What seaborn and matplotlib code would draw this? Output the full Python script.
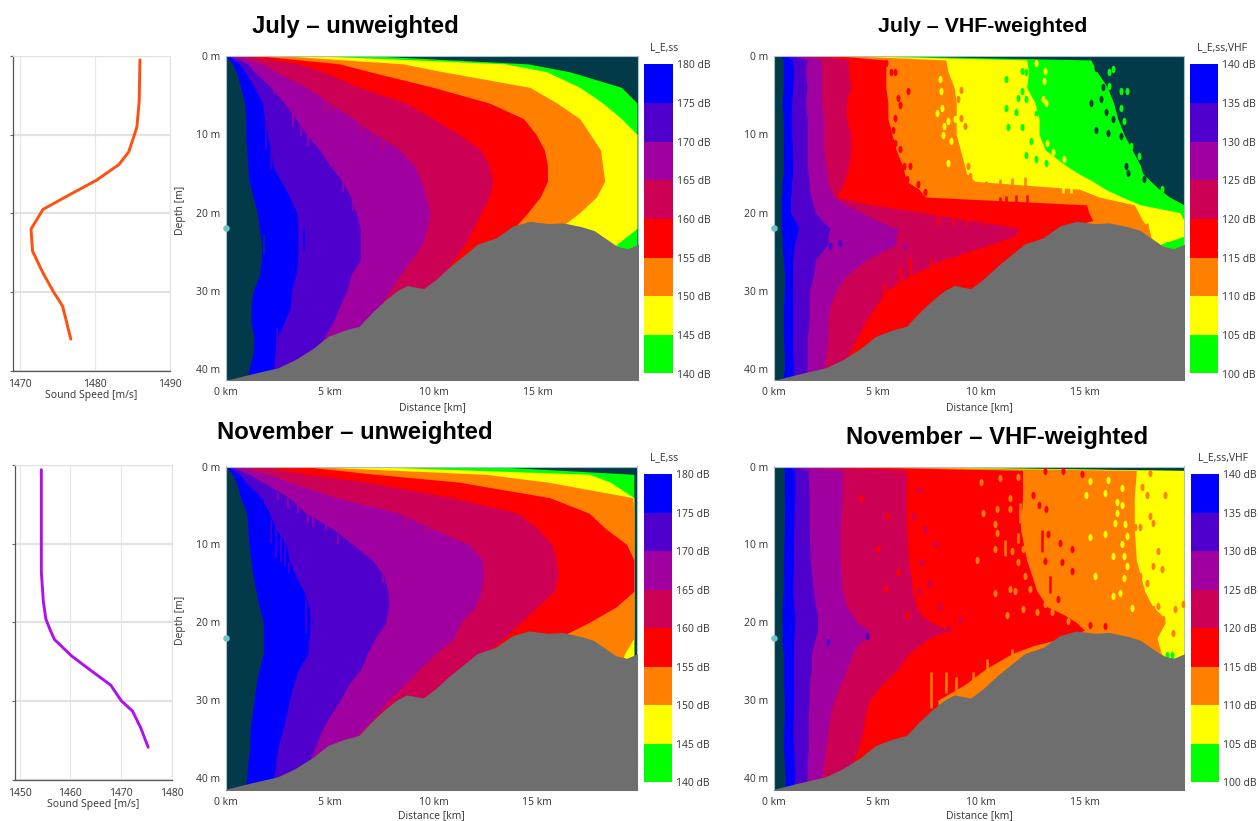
import numpy as np
import seaborn as sns
import matplotlib
matplotlib.use("Agg")
import matplotlib.pyplot as plt
from matplotlib.colors import ListedColormap
from matplotlib.path import Path
from matplotlib.transforms import Affine2D

sns.set_style("white")
plt.rcParams['font.family'] = ['Open Sans', 'DejaVu Sans']

W, H = 1258, 821

# colours, top of the colour bar first
band_names = ["blue", "indigo", "purple", "crimson", "red", "orange", "yellow", "green"]
band_colours = ["#0000ff", "#5000cc", "#a000a0", "#cc0055", "#ff0000", "#ff8000", "#ffff00", "#00ff00"]
palette = dict(zip(band_names, band_colours))
TEAL = "#033a4a"
GREY = "#6e6e6e"
palette["teal"] = TEAL

levels_unw = [180, 175, 170, 165, 160, 155, 150, 145, 140]
levels_vhf = [140, 135, 130, 125, 120, 115, 110, 105, 100]

# sound speed profiles
july_depth = [0.5, 5.7, 9, 10.5, 12.2, 13.8, 15.8, 17.5, 19.5, 22, 24.8, 27.6, 30, 31.8, 36]
july_speed = [1486.0, 1485.9, 1485.6, 1485.1, 1484.5, 1483.2, 1480.2, 1476.9, 1473.1, 1471.5, 1471.7, 1473.1, 1474.5, 1475.7, 1476.8]
nov_depth = [0.6, 6.4, 13.6, 17.4, 19.6, 20.9, 22.2, 24.3, 26, 28, 30, 31.3, 33.4, 35.9]
nov_speed = [1454.3, 1454.3, 1454.3, 1454.7, 1455.2, 1456, 1456.9, 1460.3, 1463.8, 1468, 1470.1, 1472.3, 1473.9, 1475.4]

# seabed
bed_km = [0, 1.2, 2.5, 3.3, 4.2, 4.9, 5.7, 6.4, 7, 7.6, 8.2, 8.7, 9.5, 10.1, 10.8, 11.5, 12.1, 13, 13.8, 14.6, 15.5, 16.2, 17.1, 17.7, 18.3, 18.8, 19.3, 19.85]
bed_m = [41.4, 40.6, 39.8, 38.8, 37.3, 35.8, 35, 34.5, 32.8, 31.3, 30, 29.3, 29.7, 28.5, 26.8, 25.3, 24, 23.2, 21.7, 21.1, 21.4, 21.3, 21.8, 22.3, 23.4, 24.3, 24.6, 24]

# outer distance [km] of each band per depth row
unw_depth = [0, 1, 2, 4, 6, 8, 10, 12, 14, 16, 18, 20, 22, 24, 26, 28, 30, 32, 34, 36, 38, 40, 41.4]

a_inner = [0, .3, .5, .7, .9, .95, .95, 1, 1.05, 1.1, 1.3, 1.5, 1.6, 1.7, 1.7, 1.6, 1.3, 1.2, 1.2, 1.35, 1.3, 1.1, 1.0]
a_blue = [.1, .65, .9, 1.35, 1.75, 1.85, 2, 2.15, 2.25, 2.65, 3.05, 3.4, 3.45, 3.45, 3.45, 3.35, 3.15, 3.1, 2.8, 2.45, 2.35, 2.3, 2.3]
a_indigo = [.2, 1.05, 1.35, 2.15, 2.8, 3.35, 3.85, 4.5, 5, 5.6, 6, 6.25, 6.45, 6.45, 6.45, 6, 5.8, 5.45, 5.15, 4.7, 4.2, 3.75, 3.5]
a_purple = [.55, 1.75, 2.4, 3.85, 5, 6.1, 7.2, 8.35, 9.05, 9.4, 9.6, 9.8, 9.65, 9.45, 8.9, 8.35, 7.85, 7.4, 6.75, 6.1, 5.45, 4.85, 4.5]
a_crimson = [.95, 3.5, 4.65, 6.4, 8.65, 9.95, 11.2, 12.25, 12.65, 12.8, 12.65, 12.25, 11.9, 11.5, 10.95, 10.4, 9.75, 9.1, 8.5, 8, 7.5, 7, 6.5]
a_red = [1.7, 5.45, 6.9, 9.95, 12.65, 14.3, 14.9, 15.3, 15.45, 15.45, 15.1, 14.5, 13.85, 13.2, 12.5, 12, 11.5, 11, 10.5, 10, 9.5, 9, 8.5]
a_orange = [2.9, 8.5, 10.4, 14.6, 15.9, 17, 17.5, 18, 18.1, 18.2, 17.8, 17, 16, 15, 15, 15, 15, 15, 15, 15, 15, 15, 15]
a_yellow = [4.6, 13.4, 15.4, 17, 18.1, 19, 19.75, 19.75, 19.75, 19.75, 19.75, 19.75, 19.75, 18.8, 18, 18, 18, 18, 18, 18, 18, 18, 18]
a_green = [7.2, 14.5, 16.5, 19, 19.75, 19.75, 19.75, 19.75, 19.75, 19.75, 19.75, 19.75, 19.75, 19.75, 19.75, 19.75, 19.75, 19.75, 19.75, 19.75, 19.75, 19.75, 19.75]

c_inner = [0, .3, .5, .7, 1, 1.05, 1.1, 1.2, 1.3, 1.45, 1.6, 1.8, 1.8, 1.8, 1.6, 1.45, 1.35, 1.25, 1.15, 1.15, 1.05, 1, .9]
c_blue = [.1, .65, .95, 1.7, 2.1, 2.4, 2.9, 3.05, 3.35, 3.75, 4, 4.15, 4, 3.95, 3.5, 3.25, 3.05, 2.9, 2.7, 2.5, 2.4, 2.3, 2.3]
c_indigo = [.2, 1.1, 1.75, 3.05, 3.85, 5.15, 6.1, 7.05, 7.6, 7.8, 7.85, 7.7, 7.2, 6.8, 6.5, 5.9, 5.5, 5, 4.6, 4.3, 4, 3.7, 3.5]
c_purple = [.6, 2.1, 3.05, 5.3, 8.35, 9.95, 11.7, 12.35, 12.4, 12.3, 12, 11.3, 11, 10.1, 9.3, 8.6, 7.8, 7.2, 6.5, 5.8, 5.2, 4.7, 4.3]
c_crimson = [1.8, 3.85, 6.75, 10.9, 14.1, 15, 15.7, 15.9, 16, 15.8, 15, 14.2, 13.4, 12.5, 11.8, 11.2, 10.5, 10, 9.5, 9, 8.5, 8, 7.5]
c_red = [3.7, 7.2, 11.2, 15.6, 17.5, 18.3, 19.3, 19.65, 19.65, 19.65, 18.8, 17.5, 16, 15, 15, 15, 15, 15, 15, 15, 15, 15, 15]
c_orange = [4, 12.5, 15.5, 19.6, 19.65, 19.65, 19.65, 19.65, 19.65, 19.65, 19.65, 19.65, 19.65, 19.2, 19, 19, 19, 19, 19, 19, 19, 19, 19]
c_yellow = [6.8, 17.5, 18.5, 19.65, 19.65, 19.65, 19.65, 19.65, 19.65, 19.65, 19.65, 19.65, 19.65, 19.65, 19.65, 19.65, 19.65, 19.65, 19.65, 19.65, 19.65, 19.65, 19.65]
c_green = [12.8, 19.65, 19.65, 19.65, 19.65, 19.65, 19.65, 19.65, 19.65, 19.65, 19.65, 19.65, 19.65, 19.65, 19.65, 19.65, 19.65, 19.65, 19.65, 19.65, 19.65, 19.65, 19.65]

b_depth = [0, .5, 2, 4, 6, 8, 10, 12, 14, 15, 16, 17, 18, 19, 20, 21, 22, 23, 24, 26, 28, 30, 32, 34, 36, 38, 40, 41.4]
b_inner = [.3, .45, .45, .45, .4, .45, .45, .45, .45, .45, .4, .4, .35, .35, .35, .35, .35, .4, .4, .45, .5, .5, .45, .45, .45, .5, .5, .4]
b_blue = [.6, .9, .95, .9, .85, .85, .85, .9, .9, .9, .85, .85, .8, .8, .8, 1, 1.2, 1.1, 1, .9, .9, .9, .9, .9, .9, .9, .95, .9]
b_indigo = [1, 1.6, 1.5, 1.6, 1.5, 1.6, 1.6, 1.6, 1.6, 1.65, 1.7, 1.7, 1.8, 1.9, 2, 2.3, 2.7, 2.6, 2.6, 2, 1.9, 1.7, 1.7, 1.7, 1.6, 1.6, 1.6, 1.5]
b_purple = [1.5, 2.3, 2.3, 2.3, 2.3, 2.4, 2.4, 2.4, 2.5, 2.55, 2.6, 2.7, 2.9, 3.5, 4.2, 5, 5.8, 5.9, 5.9, 4.5, 3.5, 3, 2.7, 2.6, 2.6, 2.5, 2.4, 2.4]
b_crimson = [2.2, 3.6, 3.6, 3.7, 3.5, 3.5, 3.7, 3.7, 3.6, 3.5, 3.4, 3.2, 3, 4.7, 7.2, 9.6, 11.85, 11.6, 10.5, 8.2, 6.6, 5.4, 4.9, 4.4, 4, 3.6, 3.3, 3]
b_red = [3.1, 5.4, 5.4, 5.4, 5.5, 5.5, 5.7, 5.9, 6.2, 6.3, 6.4, 7, 7.3, 15.1, 15.2, 15.4, 14, 13.5, 13, 13, 13, 13, 13, 13, 13, 13, 13, 13]
b_orange = [3.8, 8.3, 8.4, 8.7, 8.8, 8.8, 8.8, 9, 9.2, 9.3, 9.7, 14.75, 15.7, 17.4, 17.6, 17.8, 18.1, 18.2, 18.2, 18, 18, 18, 18, 18, 18, 18, 18, 18]
b_yellow = [4.5, 12.2, 12.3, 12.2, 12.6, 12.8, 12.8, 13.1, 14.1, 14.7, 15.4, 16, 16.8, 17.7, 19.6, 19.8, 19.8, 19.8, 18.7, 18.7, 18.7, 18.7, 18.7, 18.7, 18.7, 18.7, 18.7, 18.7]
b_green = [5.8, 15.3, 15.6, 16.1, 16.4, 16.6, 16.9, 17.3, 17.7, 17.8, 18.2, 18.6, 19.1, 19.8, 19.8, 19.8, 19.8, 19.8, 19.8, 19.8, 19.8, 19.8, 19.8, 19.8, 19.8, 19.8, 19.8, 19.8]

d_depth = [0, .5, 4, 8, 12, 16, 18, 19, 20, 21, 22, 23, 24, 26, 28, 30, 32, 34, 36, 38, 40, 41.4]
d_inner = [.45, .5, .5, .5, .45, .45, .4, .4, .4, .4, .4, .4, .45, .45, .45, .5, .5, .45, .45, .5, .55, .5]
d_blue = [.7, 1, 1, .95, .95, .9, .95, 1, 1, 1, .95, .95, .95, .95, .95, .95, .95, .9, .95, 1, 1, .9]
d_indigo = [1, 1.65, 1.7, 1.7, 1.75, 1.9, 2, 2.1, 2.1, 2.1, 2, 1.9, 1.8, 1.8, 1.7, 1.7, 1.65, 1.65, 1.65, 1.6, 1.6, 1.5]
d_purple = [1.5, 3.3, 3.3, 3.2, 3.2, 3.3, 3.5, 3.8, 4, 4.6, 4.4, 4, 3.8, 3.5, 3.2, 2.9, 2.7, 2.6, 2.5, 2.4, 2.3, 2.3]
d_crimson = [2, 6.4, 6.4, 6.4, 6.5, 6.7, 6.9, 7.1, 7.6, 8.4, 7.5, 7, 6.5, 6, 5.2, 4.6, 4.4, 4.3, 4.1, 3.8, 3.5, 3.2]
d_red = [3.2, 12, 12, 11.9, 12.2, 12.7, 13.2, 14, 14.6, 15, 14, 12.5, 11.5, 10.2, 9.2, 7.9, 8, 8, 8, 8, 8, 8]
d_orange = [4, 17.5, 17.4, 17.4, 17.5, 17.9, 18.3, 18.7, 18.9, 18.7, 18.5, 18.6, 18.7, 19.8, 19.8, 19.8, 19.8, 19.8, 19.8, 19.8, 19.8, 19.8]
d_yellow = [4.9, 19.8, 19.8, 19.8, 19.8, 19.8, 19.8, 19.8, 19.8, 19.8, 19.8, 19.8, 19.8, 19.8, 19.8, 19.8, 19.8, 19.8, 19.8, 19.8, 19.8, 19.8]
d_green = [7.8, 19.8, 19.8, 19.8, 19.8, 19.8, 19.8, 19.8, 19.8, 19.8, 19.8, 19.8, 19.8, 19.8, 19.8, 19.8, 19.8, 19.8, 19.8, 19.8, 19.8, 19.8]

# speckles in the weighted panels: band, distance [km], depth [m]
b_spots = [
    ("yellow", [8, 8.05, 8.1, 7.87, 8.2, 8.16, 8.53, 8.4, 8.72, 8.4],
     [3, 4.5, 6.6, 7.3, 9, 10.1, 10.9, 13.6, 8.1, 8.3]),
    ("orange", [9.05, 9.2, 8.9, 9.05, 9.37, 9.45, 9.77],
     [7.9, 8.9, 5.5, 4.3, 14, 15.3, 17.2]),
    ("red", [6, 6.07, 5.83, 5.75, 5.83, 6.07, 6.3, 6.55, 6.4, 6.96, 7.28, 5.67, 5.83, 6.48, 5.43],
     [5.3, 6.2, 7.9, 9.4, 11.1, 11.9, 14, 14, 15.7, 16.4, 17.4, 2.1, 2.1, 4.5, .9]),
    ("green", [12, 12.18, 12, 12.18, 11.7, 11.3, 12, 12.4, 12.18, 12.66, 13.14, 11.2, 11.78, 11.18, 12.66,
               16.19, 16.35, 16.76, 17.03, 16.92, 17.24, 17.64, 18.76, 16.76, 16.19, 17.32, 17.96, 18.96, 19.3],
     [1.9, 2.1, 4.5, 5.5, 7.2, 9.1, 9.1, 10.9, 12.6, 13.2, 13.6, 3, 5.3, 6.6, 7.4,
      2.1, 1.7, 4.5, 4.5, 8.3, 11.5, 12.8, 17, 6.6, 3.8, 14, 16, 24.1, 24.2]),
    ("yellow", [12.66, 13.1, 13.06, 13.14, 12.66, 13.2, 14, 13.46, 12.34, 12.98],
     [.85, 1.9, 3.2, 6, 8.1, 11.1, 13.2, 12.3, 7.7, 5.5]),
    ("teal", [15.55, 15.87, 15.79, 15.31, 16.03, 16.35, 15.55, 16.11, 16.76, 17.08, 17.88, 17, 15.87],
     [1.5, 1.9, 5.5, 6, 7.2, 8.1, 9.4, 9.8, 10.2, 14.9, 15.7, 14, 4]),
    ("indigo", [1.74, 2.7, 3.18], [24.3, 24.3, 23.9]),
    ("purple", [4.87, 5.43, 5.91, 6.31, 5.67, 5.11, 4.31, 3.9], [21.8, 21.8, 22.2, 24.3, 24.1, 24.3, 21.8, 22.2]),
]
# vertical streaks: band, distance [km], top [m], bottom [m]
b_streaks = [
    ("orange", [11.5, 12.1, 10.9, 10.25, 17.6, 18], [15.6, 15.4, 15.7, 16, 20.4, 21.3], [16.8, 16.8, 16.8, 16.8, 22, 22.5]),
    ("yellow", [13.95, 14.35], [16.5, 16.5], [17.5, 17.5]),
    ("red", [10.9, 11.2, 11.7, 12.2, 7.92, 8.64, 9.29, 10.09, 6.55, 7.6, 8.24, 8.72, 9.77, 6.07, 5.3],
     [18, 17.9, 17.8, 17.8, 20, 20, 20, 20, 25.8, 25.8, 25.8, 25.8, 25.8, 27, 29],
     [19.5, 19.5, 19.5, 19.5, 21.6, 21.6, 21.6, 21.6, 28.2, 28.2, 28.2, 28.2, 28.2, 29, 32]),
]

d_spots = [
    ("red", [12.52, 12.81, 13.14, 13.25, 13.81, 14.38, 13.73, 15.26, 15.99, 14.86, 13.09, 13.97, 13.89, 14.38, 13.09, 5, 5.5, 6, 4.2, 5.4, 6.4],
     [3.6, 5, 5.5, 8.7, 9.8, 10.6, 17, 20.3, 20.4, .9, .6, .6, 12.3, 13.4, 12.1, 10.6, 6.3, 13.5, 4.1, 15.7, 19.1]),
    ("orange", [11.4, 10.67, 10.75, 10.67, 11.48, 12.04, 12.44, 11.8, 12.12, 11.64, 12.04, 13.09, 13.41, 14.21, 13.49, 11.4, 11.96, 10.75, 10.91, 11.8, 12.36, 12.68, 11.24, 10.67, 11.4, 10, 10.1, 9.8,
                17.76, 18, 18.16, 17.68, 18.32, 18.56, 18.88, 18.32, 18.72, 17.68, 18.16, 17.43, 18, 18.56, 18.32, 19.29, 18, 18.8, 19.37, 19.77],
     [4, 7.4, 8.5, 10.6, 10.9, 10.6, 9.1, 12.3, 14, 16, 18.3, 17.7, 18.7, 19.8, 12.3, 5.5, 6.4, 5.5, 1.5, 1.3, 15.7, 18.7, 19.1, 16.2, 15.7, 2, 6, 12,
      2.6, 3.6, 6.4, 7.7, 7.2, 10.9, 3.6, 12.8, 13.2, 14, .85, 7.7, 14.9, 17.9, 18.3, 21.3, 18.3, 19.6, 18.3, 17.7]),
    ("yellow", [15.99, 16.79, 16.55, 16.79, 16.55, 15.26, 16.15, 15.05, 15.26, 15.99, 17.03, 16.79, 16.39, 16.9, 15.5, 16.9, 16.71, 16.39, 16.47, 16.95, 17.27, 17.03],
     [3.4, 2.8, 4.5, 5, 6, 1.9, 1.7, 3.6, 9, 8.7, 8.9, 10, 11.5, 11.5, 14, 14.3, 16.2, 16.6, 7.2, 7.4, 18.1, 12.8]),
    ("green", [18.96, 19.2], [24.2, 24.2]),
    ("indigo", [4.5, 2.6], [21.7, 22.5]),
    ("crimson", [7.1, 6.7, 8.4, 7, 7.3, 7.5, 8, 9, 7, 7.8], [12.3, 6.3, 20.8, 3, 8, 15, 18, 19.5, 16, 10]),
]
d_streaks = [
    ("orange", [7.6, 8.3, 8.8, 9.6, 10.3, 11.5, 11.15, 11.8, 11.88, 12.2], [26.4, 26.4, 27, 26.4, 24.7, 23.4, 9.4, 8.5, 4.7, 1.3],
     [31, 29, 29.2, 29.4, 27.2, 25, 11.5, 9.8, 7.2, 3.4]),
    ("red", [12.93, 13.33], [8.1, 14], [11, 16.2]),
]

# narrow teeth along the band edges of the unweighted panels
a_streaks = [
    ("indigo", [1.92, 2.16, 2.47], [7.7, 11.5, 34.7], [11.9, 14.5, 37.7]),
    ("purple", [3.2, 3.6, 2.3, 3.93, 5.6, 6.1, 9.7], [6.4, 8.1, 3.8, 9.4, 15.5, 17.9, 18.9], [9.1, 10.2, 4.9, 11.5, 17.4, 19.8, 21.5]),
    ("crimson", [4.8, 5.13, 6.5, 7.05, 7.5], [5.3, 5.5, 8.3, 9.6, 10.6], [7, 7.2, 10, 11, 11.9]),
    ("blue", [3.75], [21.9], [24.9]),
    ("teal", [1.82], [22.7], [25.3]),
]
c_streaks = [
    ("indigo", [2.17, 2.41, 2.65, 2.86, 3.05, 3.85, 4.09], [6.8, 7.7, 9.2, 9.2, 12.2, 17, 18.2], [9.8, 11.8, 12.2, 12.8, 13.7, 21.4, 21.6]),
    ("purple", [2.49, 2.97, 3.45, 3.93, 4.2, 4.8, 5.4, 7.55], [3.4, 4, 5.1, 6, 6.2, 7.3, 8.8, 13.9], [4.3, 5.3, 6, 7.3, 7.7, 8.3, 10, 15]),
    ("crimson", [8.67, 9.63], [6.6, 7.9], [7.5, 8.5]),
]

# tall blob used for the speckles
BLOB = Path.unit_circle().transformed(Affine2D().scale(0.6, 1.1))


def px_axes(left, top, right, bottom):
    return fig.add_axes([left / W, 1 - bottom / H, (right - left) / W, (bottom - top) / H])


def section(rect, ylim, depth, inner, edges, xlabel_y, ylabel_y=None, spots=(), streaks=(), streak_lw=1.8):
    ax = px_axes(*rect)
    ax.set_facecolor(TEAL)
    # outermost band first, every next band painted over it
    for name, edge in zip(band_names[::-1], edges[::-1]):
        ax.fill_betweenx(depth, 0, edge, color=palette[name], lw=0, zorder=1)
    ax.fill_betweenx(depth, 0, inner, color=TEAL, lw=0, zorder=2)
    for band, km, m in spots:
        sns.scatterplot(x=km, y=m, color=palette[band], s=28, marker=BLOB, linewidth=0, legend=False, ax=ax, zorder=3)
    for band, km, top, bot in streaks:
        ax.vlines(km, top, bot, color=palette[band], lw=streak_lw, zorder=3)
    ax.fill_between(bed_km, bed_m, 45, color=GREY, lw=0, zorder=5)
    ax.set_xlim(0, 19.8)
    ax.set_ylim(*ylim)
    ax.set_xticks([0, 5, 10, 15], ["0 km", "5 km", "10 km", "15 km"])
    ax.set_yticks([0, 10, 20, 30, 40], ["0 m", "10 m", "20 m", "30 m", "40 m"])
    ax.tick_params(axis="both", length=0, labelsize=7.5, colors="#333333", pad=4)
    ax.tick_params(axis="x", pad=5)
    for s in ax.spines.values():
        s.set_color("#a8c0c8")
        s.set_linewidth(0.8)
    ax.scatter([0], [22], s=22, color="#6cc5cc", clip_on=False, zorder=6, linewidth=0)
    fig.text((rect[0] + rect[2]) / 2 / W, 1 - xlabel_y / H, "Distance [km]", ha="center", va="center", fontsize=7.5, color="#333333")
    if ylabel_y:
        fig.text(180 / W, 1 - ylabel_y / H, "Depth [m]", rotation=90, ha="center", va="center", fontsize=7.5, color="#333333")
    return ax


def colour_bar(rect, levels, title, title_x, title_y):
    ax = px_axes(*rect)
    sns.heatmap(np.arange(8).reshape(8, 1), cmap=ListedColormap(band_colours), cbar=False,
                xticklabels=False, yticklabels=False, ax=ax)
    ax.yaxis.tick_right()
    ax.set_yticks(range(9), [f"{v} dB" for v in levels], rotation=0)
    ax.tick_params(axis="y", length=0, labelsize=7.5, colors="#333333", pad=3)
    fig.text(title_x / W, 1 - title_y / H, title, ha="center", va="center", fontsize=7.5, color="#333333")


def profile(rect, speed, depth, colour, xlim, xticks):
    ax = px_axes(*rect)
    ax.set_xlim(*xlim)
    ax.set_ylim(40, 0)
    ax.set_xticks(xticks)
    ax.set_yticks([0, 10, 20, 30, 40], [])
    ax.yaxis.grid(True, color="#e2e2e2", lw=1.6)
    ax.xaxis.grid(True, color="#e6e6e6", lw=0.8)
    sns.lineplot(x=speed, y=depth, sort=False, estimator=None, color=colour, lw=2.1, ax=ax)
    ax.tick_params(axis="x", length=3, width=0.8, labelsize=7.5, colors="#333333", pad=3)
    ax.tick_params(axis="y", length=2, width=0.8, colors="#666666", left=True)
    for side in ["top", "right"]:
        ax.spines[side].set_color("#e2e2e2")
    for side in ["left", "bottom"]:
        ax.spines[side].set_color("#555555")
        ax.spines[side].set_linewidth(0.9)
    ax.set_xlabel("Sound Speed [m/s]", fontsize=7.5, color="#333333", labelpad=0)


fig = plt.figure(figsize=(W / 100, H / 100), dpi=100)

profile((13, 56, 170, 370.6), july_speed, july_depth, "#ff5010", (1469.1, 1490), [1470, 1480, 1490])
profile((15, 465, 171.5, 779.5), nov_speed, nov_depth, "#b010f0", (1449.1, 1480), [1450, 1460, 1470, 1480])

section((226, 56, 638, 380.3), (41.4, 0), unw_depth, a_inner,
        [a_blue, a_indigo, a_purple, a_crimson, a_red, a_orange, a_yellow, a_green], 408, ylabel_y=210,
        streaks=a_streaks, streak_lw=1.1)
section((774, 56, 1184, 380.3), (41.4, 0), b_depth, b_inner,
        [b_blue, b_indigo, b_purple, b_crimson, b_red, b_orange, b_yellow, b_green], 408,
        spots=b_spots, streaks=b_streaks)
section((226, 466.5, 637, 789.6), (41.45, 0), unw_depth, c_inner,
        [c_blue, c_indigo, c_purple, c_crimson, c_red, c_orange, c_yellow, c_green], 816, ylabel_y=620,
        streaks=c_streaks, streak_lw=1.1)
section((774, 466.5, 1184, 789.6), (41.45, 0), d_depth, d_inner,
        [d_blue, d_indigo, d_purple, d_crimson, d_red, d_orange, d_yellow, d_green], 816,
        spots=d_spots, streaks=d_streaks)

colour_bar((644, 64.5, 673, 373.5), levels_unw, "L_E,ss", 664, 48)
colour_bar((1190, 64.5, 1218, 373.5), levels_vhf, "L_E,ss,VHF", 1222, 48)
colour_bar((644, 474, 672, 782), levels_unw, "L_E,ss", 664, 458)
colour_bar((1191, 474, 1219, 782), levels_vhf, "L_E,ss,VHF", 1223, 458)

title_font = dict(family="Liberation Sans", fontweight="bold", ha="center", va="center", color="black")
fig.text(355 / W, 1 - 27 / H, "July – unweighted", fontsize=17.2, **title_font)
fig.text(983 / W, 1 - 27 / H, "July – VHF-weighted", fontsize=15.4, **title_font)
fig.text(355 / W, 1 - 432 / H, "November – unweighted", fontsize=17.2, **title_font)
fig.text(997 / W, 1 - 437 / H, "November – VHF-weighted", fontsize=17.2, **title_font)

plt.savefig("out.png", dpi=100)
